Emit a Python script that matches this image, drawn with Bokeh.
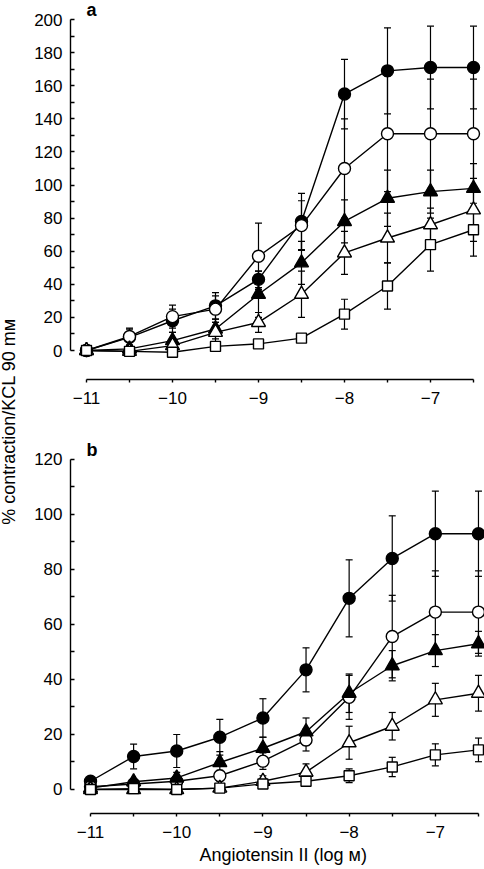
import numpy as np
from bokeh.plotting import figure
from bokeh.layouts import row, column
from bokeh.models import (ColumnDataSource, Whisker, TeeHead, FixedTicker, Label, Title,
                          CustomJSTickFormatter, Range1d)
from bokeh.embed import file_html
from bokeh.resources import INLINE

# ---------------- data ----------------
log_conc = [-11, -10.5, -10, -9.5, -9, -8.5, -8, -7.5, -7, -6.5]

# panel a
a_filled_circle = [0, 8, 18, 27, 43, 78, 155, 169, 171, 171]
a_filled_circle_err = [1.5, 5, 7, 8, 5, 17, 21, 26, 25, 25]
a_open_circle = [0, 8.5, 20.5, 25, 57, 75.5, 110, 131, 131, 131]
a_open_circle_err = [1.5, 5, 7, 8, 20, 15, 30, 35, 33, 33]
a_filled_triangle = [0, 1, 6, 13, 34, 53, 78, 92, 96, 98]
a_filled_triangle_err = [1, 2, 5, 6, 14, 13, 13, 17, 13, 15]
a_open_triangle = [0, -0.5, 3, 11, 17, 34, 59, 68, 76, 85]
a_open_triangle_err = [1, 2, 4, 6, 6, 14, 13, 15, 10, 19]
a_open_square = [0, -0.5, -1, 2.5, 4, 7.5, 22, 39, 64, 73]
a_open_square_err = [1, 2, 2, 2, 2, 2, 9, 14, 16, 16]

# panel b
b_filled_circle = [3, 12, 14, 19, 26, 43.5, 69.5, 84, 93, 93]
b_filled_circle_err = [1, 4.5, 6, 6.5, 7, 8, 14, 15.5, 15.5, 15.5]
b_open_circle = [1, 2, 3, 5, 10.3, 18, 33.5, 55.6, 64.5, 64.5]
b_open_circle_err = [0.5, 1, 1.5, 2, 3, 4, 8, 15, 15, 15]
b_filled_triangle = [0.5, 2.8, 4.2, 9.8, 15, 21, 35, 45, 50.5, 53]
b_filled_triangle_err = [0.5, 1, 2, 4, 4, 5, 7, 5.5, 5.8, 4.5]
b_open_triangle = [0, 0, 0, 0.5, 3, 6.3, 17, 23, 32.6, 35]
b_open_triangle_err = [0.5, 0.5, 1, 1, 2, 3, 6, 5, 6, 6.5]
b_open_square = [0, 0.3, 0, 0.5, 2, 3, 5, 8.2, 12.6, 14.4]
b_open_square_err = [0.5, 0.5, 1, 1, 1, 1.5, 2.5, 3.5, 4, 4.3]

x_major_ticks = [-11, -10, -9, -8, -7]
x_minor_ticks = [-10.5, -9.5, -8.5, -7.5, -6.5]
a_y_ticks = [0, 20, 40, 60, 80, 100, 120, 140, 160, 180, 200]
a_y_minor = [10, 30, 50, 70, 90, 110, 130, 150, 170, 190]
b_y_ticks = [0, 20, 40, 60, 80, 100, 120]
b_y_minor = [10, 30, 50, 70, 90, 110]

y_label = "% contraction/KCL 90 mм"
x_label = "Angiotensin II (log м)"

FONT = "Liberation Sans"

styles = [
    dict(marker="circle", size=12, fill="black"),
    dict(marker="circle", size=12, fill="white"),
    dict(marker="triangle", size=14, fill="black"),
    dict(marker="triangle", size=14, fill="white"),
    dict(marker="square", size=10, fill="white"),
]


def make_panel(series, y_range, ticks, minor, height, border_top, border_bottom,
               x_range, letter, letter_x, letter_y, xlabel):
    p = figure(width=464, height=height, x_range=Range1d(*x_range), y_range=Range1d(*y_range),
               output_backend="svg", toolbar_location=None,
               min_border_left=50, min_border_right=0,
               min_border_top=border_top, min_border_bottom=border_bottom)
    p.outline_line_color = None
    p.grid.visible = False
    p.background_fill_color = "white"

    # x axis
    xa = p.xaxis[0]
    xa.ticker = FixedTicker(ticks=x_major_ticks, minor_ticks=x_minor_ticks)
    xa.formatter = CustomJSTickFormatter(code="return (tick < 0 ? '\\u2212' : '') + Math.abs(tick).toString();")
    xa.bounds = (x_major_ticks[0], x_minor_ticks[-1])
    xa.major_tick_in = 0
    xa.major_tick_out = 3
    xa.minor_tick_in = 0
    xa.minor_tick_out = 3
    xa.major_label_standoff = 9
    xa.axis_line_width = 1.4
    xa.major_tick_line_width = 1.4
    xa.minor_tick_line_width = 1.4
    xa.major_label_text_font = FONT
    xa.major_label_text_font_size = "17px"
    xa.major_label_text_color = "black"

    # y axis
    ya = p.yaxis[0]
    ya.ticker = FixedTicker(ticks=ticks, minor_ticks=minor)
    ya.bounds = (ticks[0], ticks[-1])
    ya.major_tick_in = 4
    ya.major_tick_out = 0
    ya.minor_tick_in = 4
    ya.minor_tick_out = 0
    ya.major_label_standoff = 8
    ya.axis_line_width = 1.4
    ya.major_tick_line_width = 1.4
    ya.minor_tick_line_width = 1.4
    ya.major_label_text_font = FONT
    ya.major_label_text_font_size = "17px"
    ya.major_label_text_color = "black"

    if xlabel:
        t = Title(text=xlabel, align="left", offset=129, text_font=FONT,
                  text_font_size="18px", text_font_style="normal", text_color="black",
                  standoff=5)
        p.add_layout(t, "below")

    x = np.array(log_conc, dtype=float)
    # error bars
    for (y, e), st in zip(series, styles):
        y = np.array(y, dtype=float)
        e = np.array(e, dtype=float)
        src = ColumnDataSource(dict(base=x, upper=y + e, lower=y - e))
        w = Whisker(source=src, base="base", upper="upper", lower="lower",
                    line_color="black", line_width=1.2,
                    upper_head=TeeHead(size=7, line_color="black", line_width=1.2),
                    lower_head=TeeHead(size=7, line_color="black", line_width=1.2),
                    level="underlay")
        p.add_layout(w)
    # connecting lines
    for (y, e), st in zip(series, styles):
        p.line(x, y, line_color="black", line_width=1.4)
    # markers
    for (y, e), st in zip(series, styles):
        p.scatter(x, y, marker=st["marker"], size=st["size"], fill_color=st["fill"],
                  line_color="black", line_width=1.4)

    p.add_layout(Label(x=letter_x, y=letter_y, text=letter, text_font=FONT,
                       text_font_size="18px", text_font_style="bold",
                       text_baseline="alphabetic", text_align="left", text_color="black"))
    return p


series_a = [(a_filled_circle, a_filled_circle_err), (a_open_circle, a_open_circle_err),
            (a_filled_triangle, a_filled_triangle_err), (a_open_triangle, a_open_triangle_err),
            (a_open_square, a_open_square_err)]
series_b = [(b_filled_circle, b_filled_circle_err), (b_open_circle, b_open_circle_err),
            (b_filled_triangle, b_filled_triangle_err), (b_open_triangle, b_open_triangle_err),
            (b_open_square, b_open_square_err)]

pa = make_panel(series_a, (-17.5, 209.1), a_y_ticks, a_y_minor, 425, 4, 46,
                (-11.186, -6.372), "a", -11.0, 205.9, None)
pb = make_panel(series_b, (-8.73, 129.8), b_y_ticks, b_y_minor, 444, 7, 56,
                (-11.232, -6.430), "b", -11.046, 123.3, x_label)

# y-axis label strip
pl = figure(width=20, height=869, x_range=Range1d(0, 1), y_range=Range1d(0, 1),
            output_backend="svg", toolbar_location=None,
            x_axis_location=None, y_axis_location=None, min_border=0)
pl.outline_line_color = None
pl.grid.visible = False
pl.add_layout(Label(x=0.4, y=0.5155, text=y_label, angle=np.pi / 2, text_font=FONT,
                    text_font_size="18px", text_align="center", text_baseline="middle",
                    text_color="black"))

layout = row(pl, column(pa, pb, spacing=0), spacing=0)

open("out.html", "w").write(file_html(layout, INLINE))
